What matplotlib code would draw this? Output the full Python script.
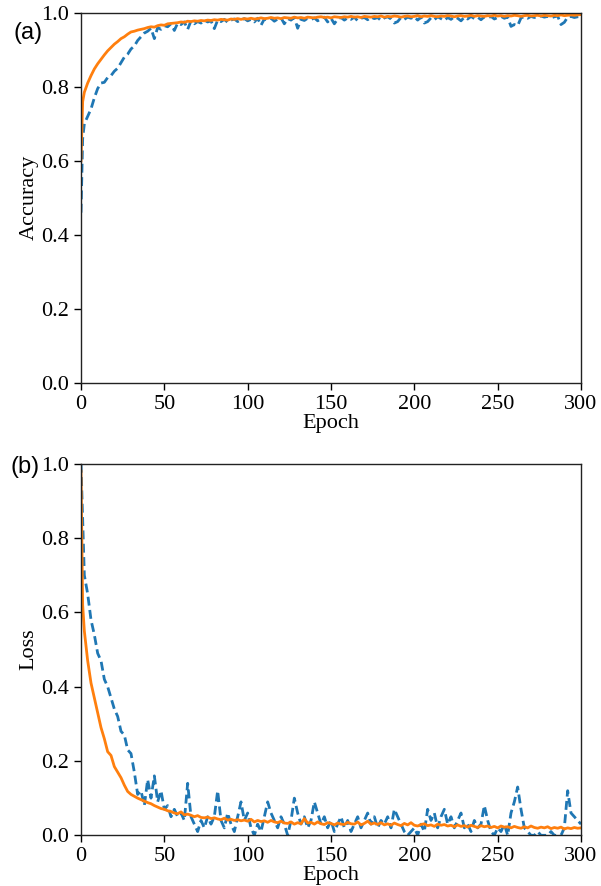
import matplotlib
matplotlib.use("Agg")
import matplotlib.pyplot as plt

# x values: epochs
epochs = [0, 1] + list(range(2, 301, 2))

acc_train = [
    0.60, 0.76, 0.785, 0.810, 0.830, 0.848, 0.862, 0.874, 0.886, 0.897,
    0.906, 0.915, 0.922, 0.930, 0.935, 0.942, 0.948, 0.950, 0.953, 0.955,
    0.957, 0.960, 0.962, 0.961, 0.965, 0.967, 0.966, 0.970, 0.971, 0.972,
    0.973, 0.975, 0.974, 0.977, 0.976, 0.978, 0.977, 0.979, 0.978, 0.980,
    0.979, 0.981, 0.980, 0.982, 0.981, 0.980, 0.983, 0.982, 0.984, 0.982,
    0.984, 0.983, 0.985, 0.983, 0.984, 0.986, 0.984, 0.985, 0.987, 0.985,
    0.986, 0.984, 0.987, 0.986, 0.985, 0.988, 0.986, 0.987, 0.985, 0.988,
    0.987, 0.986, 0.988, 0.989, 0.987, 0.988, 0.986, 0.989, 0.988, 0.987,
    0.989, 0.988, 0.990, 0.988, 0.989, 0.987, 0.990, 0.989, 0.988, 0.990,
    0.989, 0.991, 0.988, 0.990, 0.989, 0.991, 0.990, 0.988, 0.990, 0.991,
    0.989, 0.990, 0.992, 0.989, 0.991, 0.990, 0.992, 0.990, 0.989, 0.991,
    0.990, 0.992, 0.991, 0.989, 0.991, 0.992, 0.990, 0.991, 0.993, 0.990,
    0.992, 0.991, 0.990, 0.992, 0.991, 0.993, 0.991, 0.992, 0.990, 0.992,
    0.991, 0.993, 0.992, 0.990, 0.992, 0.993, 0.991, 0.992, 0.993, 0.991,
    0.993, 0.992, 0.991, 0.993, 0.992, 0.994, 0.992, 0.993, 0.994, 0.993,
    0.994, 0.995,
]

acc_val = [
    0.46, 0.66, 0.70, 0.72, 0.74, 0.77, 0.795, 0.810, 0.812, 0.825,
    0.830, 0.842, 0.850, 0.865, 0.880, 0.888, 0.902, 0.910, 0.925, 0.935,
    0.945, 0.950, 0.958, 0.930, 0.960, 0.955, 0.965, 0.962, 0.970, 0.952,
    0.972, 0.968, 0.975, 0.955, 0.978, 0.970, 0.976, 0.972, 0.980, 0.975,
    0.978, 0.957, 0.980, 0.976, 0.982, 0.974, 0.980, 0.983, 0.976, 0.981,
    0.984, 0.978, 0.982, 0.975, 0.985, 0.966, 0.983, 0.979, 0.985, 0.977,
    0.983, 0.986, 0.970, 0.984, 0.980, 0.987, 0.958, 0.982, 0.979, 0.985,
    0.981, 0.986, 0.978, 0.984, 0.988, 0.975, 0.985, 0.970, 0.983, 0.987,
    0.980, 0.986, 0.982, 0.988, 0.978, 0.985, 0.987, 0.981, 0.988, 0.984,
    0.987, 0.979, 0.986, 0.989, 0.983, 0.972, 0.976, 0.987, 0.982, 0.988,
    0.985, 0.989, 0.980, 0.988, 0.972, 0.976, 0.986, 0.981, 0.989, 0.984,
    0.979, 0.987, 0.982, 0.989, 0.985, 0.978, 0.988, 0.983, 0.990, 0.984,
    0.988, 0.981, 0.989, 0.985, 0.990, 0.983, 0.987, 0.990, 0.985, 0.988,
    0.963, 0.968, 0.965, 0.986, 0.989, 0.985, 0.990, 0.987, 0.989, 0.991,
    0.988, 0.990, 0.986, 0.989, 0.991, 0.968, 0.974, 0.988, 0.990, 0.987,
    0.989, 0.990,
]

loss_train = [
    0.98, 0.62, 0.55, 0.47, 0.41, 0.37, 0.33, 0.29, 0.26, 0.225,
    0.215, 0.185, 0.17, 0.155, 0.135, 0.118, 0.110, 0.105, 0.100, 0.096,
    0.092, 0.088, 0.085, 0.080, 0.076, 0.072, 0.070, 0.066, 0.064, 0.060,
    0.058, 0.063, 0.055, 0.057, 0.054, 0.050, 0.053, 0.048, 0.047, 0.049,
    0.045, 0.047, 0.044, 0.042, 0.046, 0.041, 0.043, 0.040, 0.042, 0.039,
    0.041, 0.038, 0.043, 0.036, 0.040, 0.037, 0.039, 0.035, 0.040, 0.036,
    0.034, 0.038, 0.033, 0.032, 0.036, 0.030, 0.034, 0.031, 0.045, 0.033,
    0.035, 0.030, 0.036, 0.031, 0.029, 0.034, 0.032, 0.028, 0.033, 0.030,
    0.029, 0.035, 0.031, 0.030, 0.036, 0.028, 0.032, 0.038, 0.030, 0.033,
    0.029, 0.034, 0.028, 0.031, 0.027, 0.033, 0.029, 0.026, 0.032, 0.028,
    0.034, 0.027, 0.025, 0.029, 0.031, 0.026, 0.028, 0.024, 0.030, 0.027,
    0.029, 0.025, 0.027, 0.023, 0.028, 0.024, 0.026, 0.022, 0.027, 0.024,
    0.021, 0.026, 0.023, 0.025, 0.021, 0.024, 0.020, 0.025, 0.022, 0.023,
    0.020, 0.024, 0.021, 0.019, 0.023, 0.020, 0.025, 0.021, 0.019, 0.022,
    0.020, 0.023, 0.018, 0.021, 0.019, 0.022, 0.017, 0.020, 0.018, 0.021,
    0.019, 0.020,
]

loss_val = [
    1.00, 0.85, 0.70, 0.65, 0.58, 0.54, 0.49, 0.47, 0.42, 0.40,
    0.37, 0.34, 0.32, 0.28, 0.27, 0.23, 0.22, 0.17, 0.11, 0.12,
    0.08, 0.15, 0.10, 0.16, 0.09, 0.12, 0.07, 0.08, 0.05, 0.07,
    0.05, 0.06, 0.04, 0.14, 0.05, 0.03, 0.01, 0.04, 0.02, 0.05,
    0.03, 0.05, 0.12, 0.04, 0.02, 0.06, 0.03, 0.01, 0.05, 0.09,
    0.04, 0.06, 0.02, 0.00, 0.03, 0.01, 0.05, 0.09, 0.06, 0.04,
    0.02, 0.05, 0.03, 0.00, 0.04, 0.10, 0.06, 0.03, 0.05, 0.02,
    0.04, 0.09, 0.06, 0.03, 0.05, 0.02, 0.04, 0.01, 0.03, 0.05,
    0.02, 0.04, 0.01, 0.03, 0.05, 0.02, 0.04, 0.06, 0.03, 0.05,
    0.02, 0.04, 0.03, 0.05, 0.02, 0.07, 0.05, 0.03, 0.01, 0.00,
    0.01, 0.02, 0.00, 0.03, 0.01, 0.07, 0.04, 0.06, 0.02, 0.05,
    0.07, 0.03, 0.05, 0.02, 0.04, 0.06, 0.02, 0.03, 0.01, 0.04,
    0.02, 0.03, 0.08, 0.04, 0.01, 0.00, 0.02, 0.01, 0.03, 0.00,
    0.06, 0.09, 0.13, 0.07, 0.02, 0.01, 0.00, 0.00, 0.01, 0.00,
    0.00, 0.00, 0.01, 0.00, 0.00, 0.00, 0.02, 0.12, 0.06, 0.05,
    0.04, 0.03,
]

x_ticks = [0, 50, 100, 150, 200, 250, 300]
y_ticks = [0.0, 0.2, 0.4, 0.6, 0.8, 1.0]

plt.rcParams['font.family'] = ['Liberation Serif', 'DejaVu Serif']
plt.rcParams['font.size'] = 16

W, H = 601, 886
fig = plt.figure(figsize=(W / 100, H / 100), dpi=100)

left = 81 / W
right = 581 / W
ax1 = fig.add_axes([left, 1 - 383 / H, right - left, (383 - 12.7) / H])
ax2 = fig.add_axes([left, 1 - 835.3 / H, right - left, (835.3 - 463.8) / H])

blue = '#1f77b4'
orange = '#ff7f0e'

for ax, val, train, ylabel in [(ax1, acc_val, acc_train, 'Accuracy'),
                               (ax2, loss_val, loss_train, 'Loss')]:
    ax.plot(epochs, val, color=blue, linestyle='--', linewidth=2.0,
            dashes=(3.2, 1.6))
    ax.plot(epochs, train, color=orange, linestyle='-', linewidth=2.0)
    ax.set_xlim(0, 300)
    ax.set_ylim(0, 1.0)
    ax.set_xticks(x_ticks)
    ax.set_yticks(y_ticks)
    ax.set_yticklabels([f'{v:.1f}' for v in y_ticks])
    ax.set_xlabel('Epoch', labelpad=0)
    ax.set_ylabel(ylabel, labelpad=2)
    for s in ax.spines.values():
        s.set_linewidth(1.0)
        s.set_color('#222222')
    ax.tick_params(width=1.0, length=5, labelsize=16)

fig.text(13 / W, 1 - 33 / H, '(a)', family=['Liberation Sans', 'DejaVu Sans'],
         fontsize=17, va='center', ha='left')
fig.text(11 / W, 1 - 467 / H, '(b)', family=['Liberation Sans', 'DejaVu Sans'],
         fontsize=17, va='center', ha='left')

fig.savefig('out.png', dpi=100)
